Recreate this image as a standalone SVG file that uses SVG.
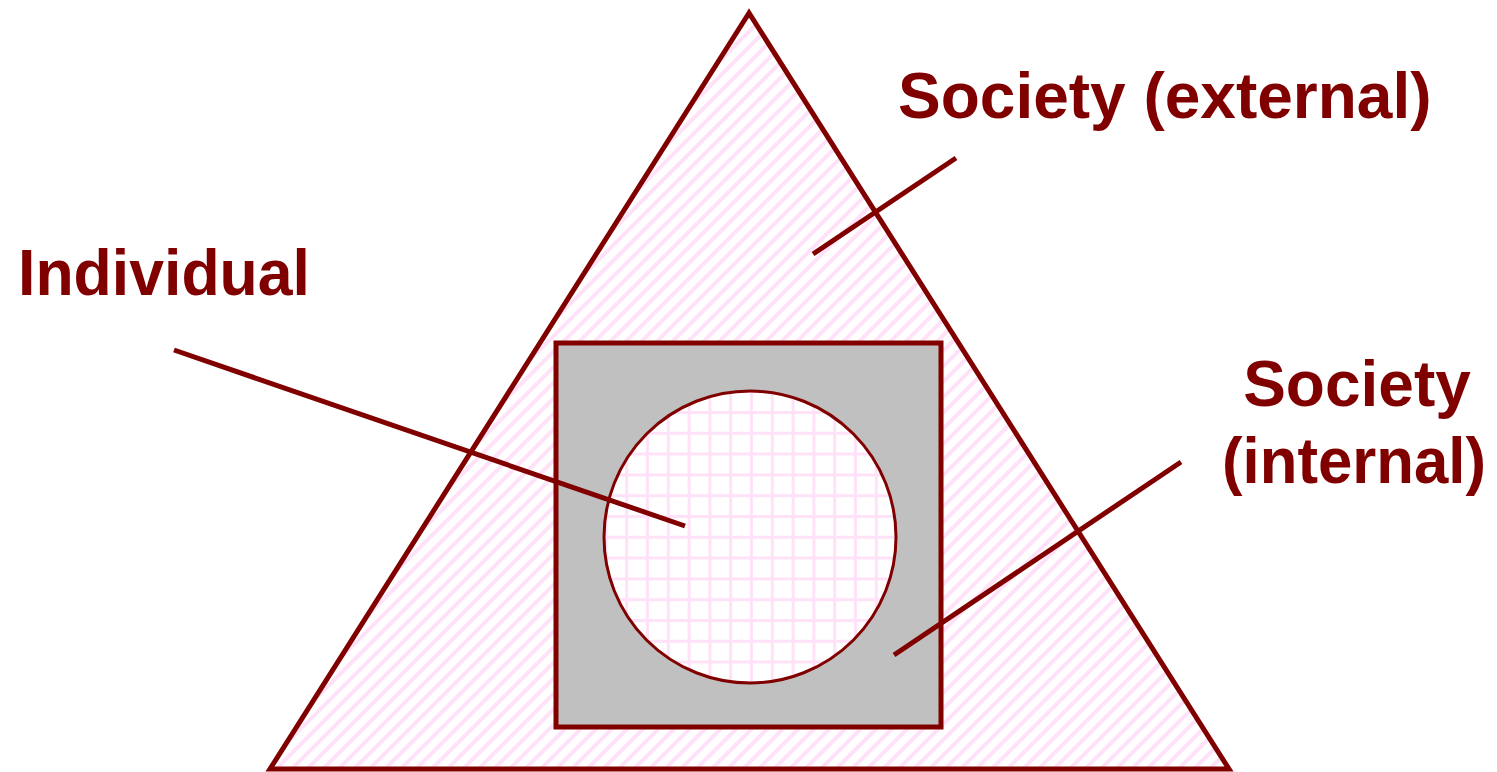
<svg xmlns="http://www.w3.org/2000/svg" width="1497" height="772" viewBox="0 0 1497 772">
<defs>
<pattern id="hatch" patternUnits="userSpaceOnUse" width="11" height="11" patternTransform="rotate(45)">
<rect width="11" height="11" fill="#ffffff"/>
<rect x="0" y="0" width="4" height="11" fill="#ffe2f8"/>
</pattern>
<pattern id="grid" patternUnits="userSpaceOnUse" x="646" y="411" width="20.8" height="20.8">
<rect width="20.8" height="20.8" fill="#ffffff"/>
<rect x="0" y="0" width="3" height="20.8" fill="#ffe2f8"/>
<rect x="0" y="0" width="20.8" height="3" fill="#ffe2f8"/>
</pattern>
<style>
.shape{stroke:#800000;stroke-width:5;stroke-linejoin:miter}
.conn{stroke:#800000;stroke-width:5;fill:none}
.lbl{font-family:"Liberation Sans",Arial,sans-serif;font-weight:bold;font-size:64px;fill:#800000}
</style>
</defs>
<g id="society-external">
<polygon class="shape" points="749,13 270,769 1229,769" fill="url(#hatch)"/>
</g>
<g id="society-internal">
<rect class="shape" x="556" y="343" width="385" height="384" fill="#c0c0c0"/>
</g>
<g id="individual">
<circle cx="750" cy="537" r="146" fill="url(#grid)" stroke="#800000" stroke-width="3"/>
</g>
<g id="connectors">
<line class="conn" x1="956" y1="158" x2="813" y2="254"/>
<line class="conn" x1="174" y1="350" x2="685" y2="526"/>
<line class="conn" x1="1181" y1="462" x2="894" y2="655"/>
</g>
<g id="labels">
<text class="lbl" x="898" y="118">Society (external)</text>
<text class="lbl" x="18" y="295" textLength="292" lengthAdjust="spacingAndGlyphs">Individual</text>
<text class="lbl" x="1357" y="406" text-anchor="middle">Society</text>
<text class="lbl" x="1222" y="483" textLength="264" lengthAdjust="spacingAndGlyphs">(internal)</text>
</g>
</svg>
